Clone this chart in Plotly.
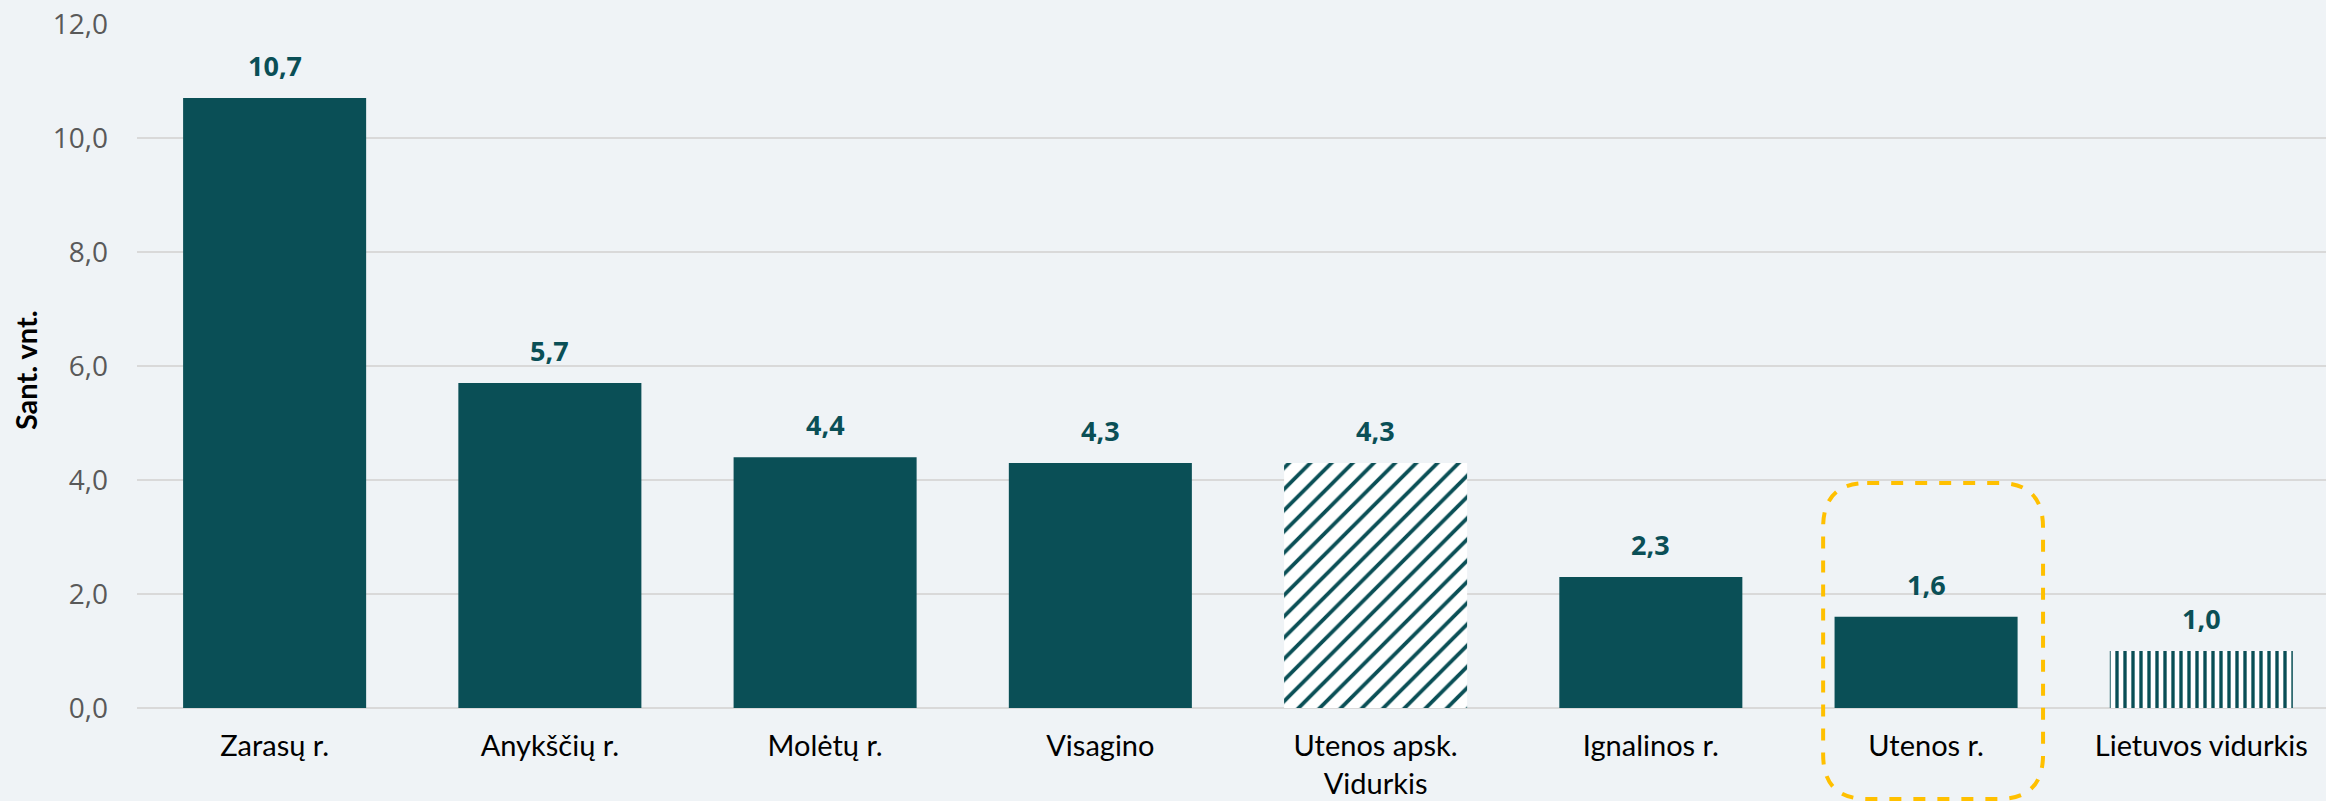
import plotly.graph_objects as go

categories = ["Zarasų r.", "Anykščių r.", "Molėtų r.", "Visagino", "Utenos apsk.<br>Vidurkis",
              "Ignalinos r.", "Utenos r.", "Lietuvos vidurkis"]
values = [10.7, 5.7, 4.4, 4.3, 4.3, 2.3, 1.6, 1.0]
patterns = ["", "", "", "", "/", "", "", "|"]
pattern_sizes = [8, 8, 8, 8, 15, 8, 8, 8]
pattern_solidity = [0.3, 0.3, 0.3, 0.3, 0.25, 0.3, 0.3, 0.42]
highlight = "Utenos r."
y_ticks = [0, 2, 4, 6, 8, 10, 12]
y_title = "Sant. vnt."

TEAL = "#0A4F56"
BG = "#EFF3F6"

def fmt(v):
    return f"{v:.1f}".replace(".", ",")

fig = go.Figure()
fig.add_trace(go.Bar(
    x=categories, y=values, width=0.665,
    marker=dict(
        color=TEAL, line=dict(width=0),
        pattern=dict(shape=patterns, fgcolor=TEAL, bgcolor="white",
                     size=pattern_sizes, solidity=pattern_solidity, fillmode="replace"),
    ),
    hoverinfo="skip",
))

for c, v in zip(categories, values):
    fig.add_annotation(x=c, y=v, text=f"<b>{fmt(v)}</b>", showarrow=False,
                       yanchor="bottom", yshift=12,
                       font=dict(family="Open Sans", size=27, color=TEAL))

# dashed rounded highlight box around the highlighted category
idx = categories.index(highlight)
x0, x1 = idx - 0.374, idx + 0.425
y0, y1 = -0.133, 0.329
rx, ry = 0.16, 0.065
path = (f"M {x0+rx} {y1} L {x1-rx} {y1} Q {x1} {y1} {x1} {y1-ry} "
        f"L {x1} {y0+ry} Q {x1} {y0} {x1-rx} {y0} L {x0+rx} {y0} "
        f"Q {x0} {y0} {x0} {y0+ry} L {x0} {y1-ry} Q {x0} {y1} {x0+rx} {y1} Z")
fig.add_shape(type="path", path=path, xref="x", yref="paper",
              line=dict(color="#FFC000", width=4, dash="dash"), layer="above")

fig.add_annotation(xref="paper", yref="paper", x=-(137 - 25) / 2189, y=0.494,
                   text=f"<b>{y_title}</b>", textangle=-90, showarrow=False,
                   xanchor="center", yanchor="middle",
                   font=dict(family="Lato", size=29, color="black"))

fig.update_layout(
    width=2326, height=801,
    margin=dict(l=137, r=0, t=24, b=93, autoexpand=False),
    paper_bgcolor=BG, plot_bgcolor=BG,
    showlegend=False,
)
fig.update_xaxes(
    type="category", range=[-0.5, 7.453], automargin=False,
    showgrid=False, showline=False, ticks="",
    tickfont=dict(family="Lato", size=29, color="black"),
    ticklabelstandoff=18,
)
fig.update_yaxes(
    range=[0, 12], tickvals=y_ticks, ticktext=[fmt(t) for t in y_ticks],
    automargin=False,
    showgrid=True, gridcolor="#D9D9D9", gridwidth=2,
    zeroline=True, zerolinecolor="#D9D9D9", zerolinewidth=2,
    tickfont=dict(family="Open Sans", size=28, color="#595959"),
    ticks="", ticklabelstandoff=28, showline=False,
)

fig.write_html("out.html", config={"displayModeBar": False},
               post_script="document.body.style.margin='0';document.body.style.background='" + BG + "';")
